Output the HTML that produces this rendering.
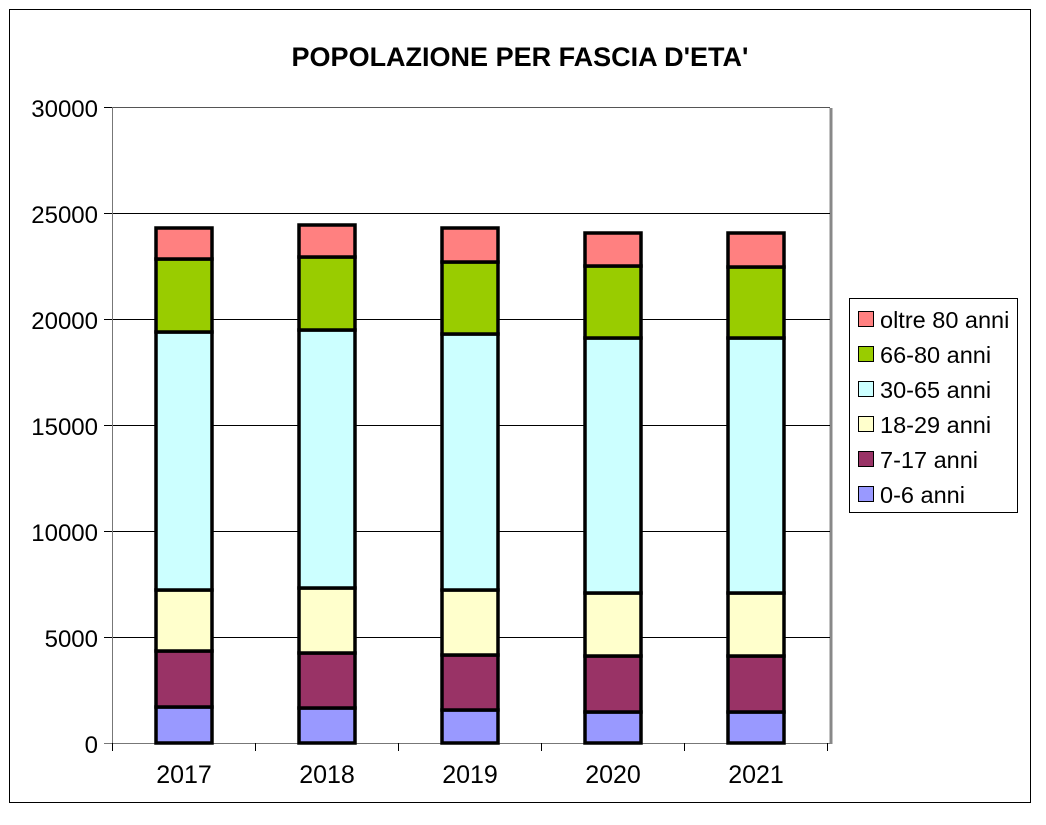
<!DOCTYPE html><html><head><style>body{margin:0;background:#fff}svg{display:block}text{font-family:"Liberation Sans",Arial,sans-serif}</style></head><body>
<svg width="1046" height="825" viewBox="0 0 1046 825">
<rect x="0" y="0" width="1046" height="825" fill="#fff"/>
<rect x="9.5" y="9.5" width="1021" height="793" fill="none" stroke="#000" stroke-width="1"/>
<text x="520" y="66" font-size="27" font-weight="bold" text-anchor="middle">POPOLAZIONE PER FASCIA D'ETA'</text>
<line x1="831" y1="108" x2="831" y2="744" stroke="#888" stroke-width="3"/>
<g stroke="#000" stroke-width="1">
<line x1="112" y1="107.5" x2="830" y2="107.5" stroke="#555"/>
<line x1="112" y1="213.5" x2="830" y2="213.5"/>
<line x1="112" y1="319.5" x2="830" y2="319.5"/>
<line x1="112" y1="425.5" x2="830" y2="425.5"/>
<line x1="112" y1="531.5" x2="830" y2="531.5"/>
<line x1="112" y1="637.5" x2="830" y2="637.5"/>
<line x1="112.5" y1="107" x2="112.5" y2="743" stroke="#777"/>
<line x1="104" y1="743.5" x2="830" y2="743.5" stroke="#777"/>
<line x1="104" y1="107.5" x2="112" y2="107.5"/><line x1="104" y1="213.5" x2="112" y2="213.5"/><line x1="104" y1="319.5" x2="112" y2="319.5"/><line x1="104" y1="425.5" x2="112" y2="425.5"/><line x1="104" y1="531.5" x2="112" y2="531.5"/><line x1="104" y1="637.5" x2="112" y2="637.5"/>
<line x1="112.5" y1="743" x2="112.5" y2="751"/><line x1="255.5" y1="743" x2="255.5" y2="751"/><line x1="398.5" y1="743" x2="398.5" y2="751"/><line x1="541.5" y1="743" x2="541.5" y2="751"/><line x1="684.5" y1="743" x2="684.5" y2="751"/><line x1="827.5" y1="743" x2="827.5" y2="751"/>
</g>
<g font-size="24" text-anchor="end">
<text x="98" y="117">30000</text><text x="98" y="223">25000</text><text x="98" y="329">20000</text><text x="98" y="435">15000</text><text x="98" y="541">10000</text><text x="98" y="647">5000</text><text x="98" y="753">0</text>
</g>
<g font-size="25" text-anchor="middle">
<text x="184" y="783">2017</text><text x="327" y="783">2018</text><text x="470" y="783">2019</text><text x="613" y="783">2020</text><text x="756" y="783">2021</text>
</g>
<g stroke="#000" stroke-width="3.5">
<rect x="156" y="707" width="56" height="36" fill="#9999ff"/><rect x="156" y="651" width="56" height="56" fill="#993366"/><rect x="156" y="590" width="56" height="61" fill="#ffffcc"/><rect x="156" y="332" width="56" height="258" fill="#ccffff"/><rect x="156" y="259" width="56" height="73" fill="#99cc00"/><rect x="156" y="228" width="56" height="31" fill="#ff8080"/>
<rect x="299" y="708" width="56" height="35" fill="#9999ff"/><rect x="299" y="653" width="56" height="55" fill="#993366"/><rect x="299" y="588" width="56" height="65" fill="#ffffcc"/><rect x="299" y="330" width="56" height="258" fill="#ccffff"/><rect x="299" y="257" width="56" height="73" fill="#99cc00"/><rect x="299" y="225" width="56" height="32" fill="#ff8080"/>
<rect x="442" y="710" width="56" height="33" fill="#9999ff"/><rect x="442" y="655" width="56" height="55" fill="#993366"/><rect x="442" y="590" width="56" height="65" fill="#ffffcc"/><rect x="442" y="334" width="56" height="256" fill="#ccffff"/><rect x="442" y="262" width="56" height="72" fill="#99cc00"/><rect x="442" y="228" width="56" height="34" fill="#ff8080"/>
<rect x="585" y="712" width="56" height="31" fill="#9999ff"/><rect x="585" y="656" width="56" height="56" fill="#993366"/><rect x="585" y="593" width="56" height="63" fill="#ffffcc"/><rect x="585" y="338" width="56" height="255" fill="#ccffff"/><rect x="585" y="266" width="56" height="72" fill="#99cc00"/><rect x="585" y="233" width="56" height="33" fill="#ff8080"/>
<rect x="728" y="712" width="56" height="31" fill="#9999ff"/><rect x="728" y="656" width="56" height="56" fill="#993366"/><rect x="728" y="593" width="56" height="63" fill="#ffffcc"/><rect x="728" y="338" width="56" height="255" fill="#ccffff"/><rect x="728" y="267" width="56" height="71" fill="#99cc00"/><rect x="728" y="233" width="56" height="34" fill="#ff8080"/>
</g>
<rect x="849.5" y="298.5" width="168" height="214" fill="#fff" stroke="#000"/>
<g stroke="#000" stroke-width="1">
<rect x="858.5" y="311.5" width="15" height="15" fill="#ff8080"/>
<rect x="858.5" y="346.5" width="15" height="15" fill="#99cc00"/>
<rect x="858.5" y="381.5" width="15" height="15" fill="#ccffff"/>
<rect x="858.5" y="416.5" width="15" height="15" fill="#ffffcc"/>
<rect x="858.5" y="451.5" width="15" height="15" fill="#993366"/>
<rect x="858.5" y="486.5" width="15" height="15" fill="#9999ff"/>
</g>
<g font-size="23.5">
<text x="880" y="328">oltre 80 anni</text><text x="880" y="363">66-80 anni</text><text x="880" y="398">30-65 anni</text><text x="880" y="433">18-29 anni</text><text x="880" y="468">7-17 anni</text><text x="880" y="503">0-6 anni</text>
</g>
</svg></body></html>
